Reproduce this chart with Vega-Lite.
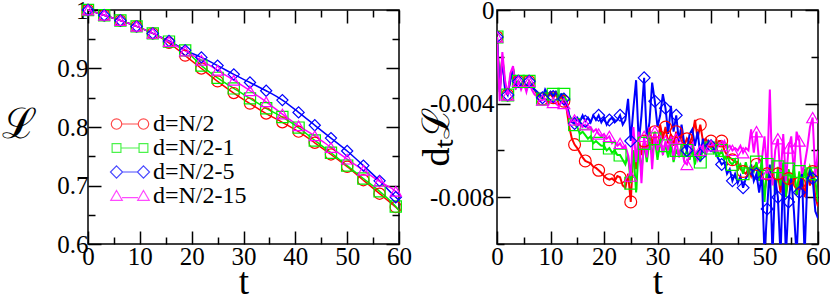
{
"$schema":"https://vega.github.io/schema/vega-lite/v6.json",
"padding":{"left":0,"top":-3,"right":0,"bottom":0},
"spacing":4,
"config":{"font":"Liberation Serif","view":{"stroke":"black","strokeWidth":1.5},
 "axis":{"domain":false,"grid":false,"tickColor":"black","tickWidth":1.5,"labelColor":"black","titleColor":"black","titleFontWeight":"normal","labelFontSize":25,"labelFont":"Liberation Serif","titleFont":"Liberation Serif","labelOverlap":false,"labelFlush":false,"labelBound":false}},
"resolve":{"scale":{"color":"independent","shape":"independent","x":"independent","y":"independent"},"legend":{"color":"independent","shape":"independent"}},
"hconcat":[
{
 "width":311,"height":234,
 "data":{"values":[
 {"t":0,"d=N/2":1,"d=N/2-1":1,"d=N/2-5":1,"d=N/2-15":1},
 {"t":3.125,"d=N/2":0.991,"d=N/2-1":0.991,"d=N/2-5":0.991,"d=N/2-15":0.991},
 {"t":6.25,"d=N/2":0.982,"d=N/2-1":0.982,"d=N/2-5":0.982,"d=N/2-15":0.982},
 {"t":9.375,"d=N/2":0.972,"d=N/2-1":0.972,"d=N/2-5":0.972,"d=N/2-15":0.972},
 {"t":12.5,"d=N/2":0.960,"d=N/2-1":0.960,"d=N/2-5":0.960,"d=N/2-15":0.960},
 {"t":15.625,"d=N/2":0.944,"d=N/2-1":0.946,"d=N/2-5":0.947,"d=N/2-15":0.946},
 {"t":18.75,"d=N/2":0.922,"d=N/2-1":0.931,"d=N/2-5":0.931,"d=N/2-15":0.930},
 {"t":21.875,"d=N/2":0.900,"d=N/2-1":0.905,"d=N/2-5":0.919,"d=N/2-15":0.914},
 {"t":25,"d=N/2":0.878,"d=N/2-1":0.884,"d=N/2-5":0.905,"d=N/2-15":0.897},
 {"t":28.125,"d=N/2":0.858,"d=N/2-1":0.866,"d=N/2-5":0.890,"d=N/2-15":0.880},
 {"t":31.25,"d=N/2":0.840,"d=N/2-1":0.849,"d=N/2-5":0.876,"d=N/2-15":0.862},
 {"t":34.375,"d=N/2":0.823,"d=N/2-1":0.832,"d=N/2-5":0.862,"d=N/2-15":0.843},
 {"t":37.5,"d=N/2":0.808,"d=N/2-1":0.817,"d=N/2-5":0.846,"d=N/2-15":0.822},
 {"t":40.625,"d=N/2":0.792,"d=N/2-1":0.799,"d=N/2-5":0.825,"d=N/2-15":0.802},
 {"t":43.75,"d=N/2":0.773,"d=N/2-1":0.777,"d=N/2-5":0.803,"d=N/2-15":0.785},
 {"t":46.875,"d=N/2":0.753,"d=N/2-1":0.756,"d=N/2-5":0.781,"d=N/2-15":0.765},
 {"t":50,"d=N/2":0.732,"d=N/2-1":0.734,"d=N/2-5":0.759,"d=N/2-15":0.745},
 {"t":53.125,"d=N/2":0.709,"d=N/2-1":0.712,"d=N/2-5":0.734,"d=N/2-15":0.726},
 {"t":56.25,"d=N/2":0.686,"d=N/2-1":0.690,"d=N/2-5":0.708,"d=N/2-15":0.707},
 {"t":59.375,"d=N/2":0.663,"d=N/2-1":0.664,"d=N/2-5":0.680,"d=N/2-15":0.690},
 {"t":60,"d=N/2":0.658,"d=N/2-1":0.657,"d=N/2-5":0.675,"d=N/2-15":0.685}
 ]},
 "transform":[{"fold":["d=N/2","d=N/2-1","d=N/2-5","d=N/2-15"],"as":["series","L"]}],
 "layer":[
  {"mark":{"type":"line","strokeWidth":1.5,"interpolate":"monotone"},
   "encoding":{
    "x":{"field":"t","type":"quantitative","scale":{"domain":[0,60],"nice":false},
      "axis":{"orient":"bottom","values":[0,5,10,15,20,25,30,35,40,45,50,55,60],
       "tickSize":{"condition":{"test":"datum.value % 10 !== 0","value":-7},"value":-13},
       "labelExpr":"datum.value % 10 === 0 ? datum.label : ''","labelPadding":13,
       "title":"t","titleFontSize":37,"titleX":155.5,"titleY":49,"titleBaseline":"alphabetic","titleAlign":"center"}},
    "y":{"field":"L","type":"quantitative","scale":{"domain":[0.6,1],"nice":false,"zero":false},
      "axis":{"orient":"left","values":[0.6,0.65,0.7,0.75,0.8,0.85,0.9,0.95,1],
       "tickSize":{"condition":{"test":"abs(datum.value*10-round(datum.value*10))>0.01","value":-7},"value":-13},
       "labelExpr":"abs(datum.value*10-round(datum.value*10))>0.01 ? '' : toString(round(datum.value*10)/10)","labelPadding":13,
       "title":"ℒ","titleAngle":0,"titleX":-87,"titleY":114,"titleAlign":"left","titleBaseline":"middle","titleFontSize":42,"titleFont":"DejaVu Serif"}},
    "color":{"field":"series","type":"nominal","scale":{"domain":["d=N/2","d=N/2-1","d=N/2-5","d=N/2-15"],"range":["#ff0000","#00ee00","#0000ff","#ff00ff"]},"legend":null}
   }},
  {"transform":[{"filter":"datum.t < 59.9"}],
   "mark":{"type":"point","filled":false,"size":125,"strokeWidth":1.2,"opacity":1},
   "encoding":{
    "x":{"field":"t","type":"quantitative","scale":{"domain":[0,60],"nice":false},
      "axis":{"orient":"top","values":[0,5,10,15,20,25,30,35,40,45,50,55,60],"labels":false,"title":null,
       "tickSize":{"condition":{"test":"datum.value % 10 !== 0","value":-7},"value":-13}}},
    "y":{"field":"L","type":"quantitative","scale":{"domain":[0.6,1],"nice":false,"zero":false},
      "axis":{"orient":"right","values":[0.6,0.65,0.7,0.75,0.8,0.85,0.9,0.95,1],"labels":false,"title":null,
       "tickSize":{"condition":{"test":"abs(datum.value*10-round(datum.value*10))>0.01","value":-7},"value":-13}}},
    "color":{"field":"series","type":"nominal","scale":{"domain":["d=N/2","d=N/2-1","d=N/2-5","d=N/2-15"],"range":["#ff0000","#00ee00","#0000ff","#ff00ff"]},"legend":null},
    "shape":{"field":"series","type":"nominal","scale":{"domain":["d=N/2","d=N/2-1","d=N/2-5","d=N/2-15"],"range":["circle","square","diamond","triangle-up"]},"legend":null}
   }},
  {"transform":[{"filter":"datum.t < 0.1"}],
   "mark":{"type":"point","filled":false,"size":0,"strokeWidth":1.2},
   "encoding":{
    "x":{"field":"t","type":"quantitative","axis":null},
    "y":{"field":"L","type":"quantitative","axis":null},
    "color":{"field":"series","type":"nominal","scale":{"domain":["d=N/2","d=N/2-1","d=N/2-5","d=N/2-15"],"range":["#ff0000","#00ee00","#0000ff","#ff00ff"]},
      "legend":{"orient":"none","legendX":30,"legendY":102,"title":null,"labelFontSize":24,"labelFont":"Liberation Serif","labelColor":"black","symbolSize":121,"symbolStrokeWidth":1.2,"labelOffset":11,"rowPadding":-1}},
    "shape":{"field":"series","type":"nominal","scale":{"domain":["d=N/2","d=N/2-1","d=N/2-5","d=N/2-15"],"range":[
      "M-3.4,0A0.95,0.95,0,1,1,-1.5,0A0.95,0.95,0,1,1,-3.4,0ZM-1.5,0L1.5,0M1.5,0A0.95,0.95,0,1,1,3.4,0A0.95,0.95,0,1,1,1.5,0Z",
      "M-3.25,-0.8H-1.65V0.8H-3.25ZM-1.65,0L1.65,0M1.65,-0.8H3.25V0.8H1.65Z",
      "M-2.45,-1.1L-1.35,0L-2.45,1.1L-3.55,0ZM-1.35,0L1.35,0M2.45,-1.1L3.55,0L2.45,1.1L1.35,0Z",
      "M-2.45,-1L-1.4,0.8L-3.5,0.8ZM-1.45,0.3L1.45,0.3M2.45,-1L3.5,0.8L1.4,0.8Z"]},
      "legend":{"orient":"none","legendX":30,"legendY":102,"title":null,"labelFontSize":24,"labelFont":"Liberation Serif","labelColor":"black","symbolSize":121,"symbolStrokeWidth":1.2,"labelOffset":11,"rowPadding":-1}}
   }}
 ],
 "resolve":{"axis":{"x":"independent","y":"independent"},"scale":{"shape":"independent","color":"independent"},"legend":{"shape":"independent","color":"independent"}}
},
{
 "width":321,"height":234,
 "data":{"values":[
 {"t":0,"d=N/2":-0.00115,"d=N/2-1":-0.00115,"d=N/2-5":-0.00115,"d=N/2-15":-0.00115},
 {"t":0.5,"d=N/2":-0.0034,"d=N/2-1":-0.0033,"d=N/2-5":-0.0035,"d=N/2-15":-0.0039},
 {"t":1,"d=N/2":-0.002,"d=N/2-1":-0.002,"d=N/2-5":-0.0021,"d=N/2-15":-0.0018},
 {"t":1.5,"d=N/2":-0.0033,"d=N/2-1":-0.0032,"d=N/2-5":-0.0034,"d=N/2-15":-0.003},
 {"t":2,"d=N/2":-0.00363,"d=N/2-1":-0.00363,"d=N/2-5":-0.00363,"d=N/2-15":-0.00363},
 {"t":2.5,"d=N/2":-0.0029,"d=N/2-1":-0.0029,"d=N/2-5":-0.003,"d=N/2-15":-0.0027},
 {"t":3,"d=N/2":-0.0025,"d=N/2-1":-0.0025,"d=N/2-5":-0.0026,"d=N/2-15":-0.0024},
 {"t":3.5,"d=N/2":-0.0032,"d=N/2-1":-0.0031,"d=N/2-5":-0.0033,"d=N/2-15":-0.0034},
 {"t":4,"d=N/2":-0.00305,"d=N/2-1":-0.00305,"d=N/2-5":-0.00305,"d=N/2-15":-0.00305},
 {"t":4.5,"d=N/2":-0.0033,"d=N/2-1":-0.0032,"d=N/2-5":-0.0033,"d=N/2-15":-0.0034},
 {"t":5,"d=N/2":-0.003,"d=N/2-1":-0.003,"d=N/2-5":-0.0031,"d=N/2-15":-0.0031},
 {"t":5.5,"d=N/2":-0.0033,"d=N/2-1":-0.0033,"d=N/2-5":-0.0034,"d=N/2-15":-0.0035},
 {"t":6,"d=N/2":-0.00305,"d=N/2-1":-0.00305,"d=N/2-5":-0.00305,"d=N/2-15":-0.00305},
 {"t":6.5,"d=N/2":-0.0032,"d=N/2-1":-0.0032,"d=N/2-5":-0.0033,"d=N/2-15":-0.0034},
 {"t":7,"d=N/2":-0.0034,"d=N/2-1":-0.0034,"d=N/2-5":-0.0034,"d=N/2-15":-0.0036},
 {"t":7.5,"d=N/2":-0.0036,"d=N/2-1":-0.0035,"d=N/2-5":-0.0035,"d=N/2-15":-0.0037},
 {"t":8,"d=N/2":-0.0037,"d=N/2-1":-0.0037,"d=N/2-5":-0.0036,"d=N/2-15":-0.0039},
 {"t":8.5,"d=N/2":-0.0038,"d=N/2-1":-0.0038,"d=N/2-5":-0.00375,"d=N/2-15":-0.00385},
 {"t":9,"d=N/2":-0.0036,"d=N/2-1":-0.0035,"d=N/2-5":-0.0034,"d=N/2-15":-0.0038},
 {"t":9.5,"d=N/2":-0.0037,"d=N/2-1":-0.0037,"d=N/2-5":-0.0036,"d=N/2-15":-0.004},
 {"t":10,"d=N/2":-0.0036,"d=N/2-1":-0.0035,"d=N/2-5":-0.0035,"d=N/2-15":-0.0039},
 {"t":10.5,"d=N/2":-0.00375,"d=N/2-1":-0.0036,"d=N/2-5":-0.0037,"d=N/2-15":-0.00395},
 {"t":11,"d=N/2":-0.0036,"d=N/2-1":-0.0035,"d=N/2-5":-0.0035,"d=N/2-15":-0.004},
 {"t":11.5,"d=N/2":-0.00385,"d=N/2-1":-0.0038,"d=N/2-5":-0.0037,"d=N/2-15":-0.0041},
 {"t":12,"d=N/2":-0.0037,"d=N/2-1":-0.0036,"d=N/2-5":-0.0036,"d=N/2-15":-0.0039},
 {"t":12.5,"d=N/2":-0.0039,"d=N/2-1":-0.0036,"d=N/2-5":-0.0038,"d=N/2-15":-0.004},
 {"t":13,"d=N/2":-0.0042,"d=N/2-1":-0.0039,"d=N/2-5":-0.004,"d=N/2-15":-0.0042},
 {"t":13.5,"d=N/2":-0.005,"d=N/2-1":-0.0045,"d=N/2-5":-0.0045,"d=N/2-15":-0.0046},
 {"t":14,"d=N/2":-0.0055,"d=N/2-1":-0.0047,"d=N/2-5":-0.0048,"d=N/2-15":-0.00475},
 {"t":14.5,"d=N/2":-0.00575,"d=N/2-1":-0.0049,"d=N/2-5":-0.00485,"d=N/2-15":-0.0047},
 {"t":15,"d=N/2":-0.0059,"d=N/2-1":-0.005,"d=N/2-5":-0.0046,"d=N/2-15":-0.0049},
 {"t":15.5,"d=N/2":-0.0061,"d=N/2-1":-0.0053,"d=N/2-5":-0.00475,"d=N/2-15":-0.0048},
 {"t":16,"d=N/2":-0.0063,"d=N/2-1":-0.0052,"d=N/2-5":-0.0045,"d=N/2-15":-0.005},
 {"t":16.5,"d=N/2":-0.00645,"d=N/2-1":-0.00535,"d=N/2-5":-0.00475,"d=N/2-15":-0.0049},
 {"t":17,"d=N/2":-0.0065,"d=N/2-1":-0.0055,"d=N/2-5":-0.0046,"d=N/2-15":-0.00505},
 {"t":17.5,"d=N/2":-0.00655,"d=N/2-1":-0.0054,"d=N/2-5":-0.0048,"d=N/2-15":-0.005},
 {"t":18,"d=N/2":-0.0067,"d=N/2-1":-0.0057,"d=N/2-5":-0.0045,"d=N/2-15":-0.0052},
 {"t":18.5,"d=N/2":-0.00675,"d=N/2-1":-0.0056,"d=N/2-5":-0.0047,"d=N/2-15":-0.0051},
 {"t":19,"d=N/2":-0.00685,"d=N/2-1":-0.0057,"d=N/2-5":-0.0045,"d=N/2-15":-0.0053},
 {"t":19.5,"d=N/2":-0.00695,"d=N/2-1":-0.0058,"d=N/2-5":-0.0048,"d=N/2-15":-0.0054},
 {"t":20,"d=N/2":-0.0071,"d=N/2-1":-0.0058,"d=N/2-5":-0.0046,"d=N/2-15":-0.0053},
 {"t":20.5,"d=N/2":-0.0072,"d=N/2-1":-0.006,"d=N/2-5":-0.0049,"d=N/2-15":-0.0055},
 {"t":21,"d=N/2":-0.00725,"d=N/2-1":-0.0059,"d=N/2-5":-0.0047,"d=N/2-15":-0.0054},
 {"t":21.5,"d=N/2":-0.0072,"d=N/2-1":-0.0061,"d=N/2-5":-0.0046,"d=N/2-15":-0.0057},
 {"t":22,"d=N/2":-0.0073,"d=N/2-1":-0.006,"d=N/2-5":-0.0048,"d=N/2-15":-0.0056},
 {"t":22.5,"d=N/2":-0.0071,"d=N/2-1":-0.0062,"d=N/2-5":-0.0047,"d=N/2-15":-0.0058},
 {"t":23,"d=N/2":-0.00715,"d=N/2-1":-0.0062,"d=N/2-5":-0.0045,"d=N/2-15":-0.0057},
 {"t":23.5,"d=N/2":-0.0075,"d=N/2-1":-0.0064,"d=N/2-5":-0.0049,"d=N/2-15":-0.0059},
 {"t":24,"d=N/2":-0.0076,"d=N/2-1":-0.0066,"d=N/2-5":-0.0047,"d=N/2-15":-0.0058},
 {"t":24.5,"d=N/2":-0.007,"d=N/2-1":-0.0062,"d=N/2-5":-0.0038,"d=N/2-15":-0.0062},
 {"t":25,"d=N/2":-0.0082,"d=N/2-1":-0.0074,"d=N/2-5":-0.0056,"d=N/2-15":-0.0071},
 {"t":25.5,"d=N/2":-0.006,"d=N/2-1":-0.006,"d=N/2-5":-0.0042,"d=N/2-15":-0.005},
 {"t":26,"d=N/2":-0.0068,"d=N/2-1":-0.0078,"d=N/2-5":-0.003,"d=N/2-15":-0.0065},
 {"t":26.5,"d=N/2":-0.0055,"d=N/2-1":-0.0058,"d=N/2-5":-0.0057,"d=N/2-15":-0.0052},
 {"t":27,"d=N/2":-0.0062,"d=N/2-1":-0.0069,"d=N/2-5":-0.0045,"d=N/2-15":-0.0074},
 {"t":27.5,"d=N/2":-0.0056,"d=N/2-1":-0.0057,"d=N/2-5":-0.0029,"d=N/2-15":-0.0054},
 {"t":28,"d=N/2":-0.006,"d=N/2-1":-0.0065,"d=N/2-5":-0.0055,"d=N/2-15":-0.0063},
 {"t":28.5,"d=N/2":-0.005,"d=N/2-1":-0.0056,"d=N/2-5":-0.0048,"d=N/2-15":-0.005},
 {"t":29,"d=N/2":-0.0058,"d=N/2-1":-0.0062,"d=N/2-5":-0.0031,"d=N/2-15":-0.0068},
 {"t":29.5,"d=N/2":-0.0052,"d=N/2-1":-0.0055,"d=N/2-5":-0.0039,"d=N/2-15":-0.0052},
 {"t":30,"d=N/2":-0.006,"d=N/2-1":-0.0064,"d=N/2-5":-0.005,"d=N/2-15":-0.006},
 {"t":30.5,"d=N/2":-0.0049,"d=N/2-1":-0.0056,"d=N/2-5":-0.0045,"d=N/2-15":-0.0053},
 {"t":31,"d=N/2":-0.0055,"d=N/2-1":-0.0061,"d=N/2-5":-0.0036,"d=N/2-15":-0.0062},
 {"t":31.5,"d=N/2":-0.005,"d=N/2-1":-0.0058,"d=N/2-5":-0.0042,"d=N/2-15":-0.0056},
 {"t":32,"d=N/2":-0.0057,"d=N/2-1":-0.0063,"d=N/2-5":-0.0053,"d=N/2-15":-0.006},
 {"t":32.5,"d=N/2":-0.0053,"d=N/2-1":-0.0057,"d=N/2-5":-0.0041,"d=N/2-15":-0.0054},
 {"t":33,"d=N/2":-0.0058,"d=N/2-1":-0.0065,"d=N/2-5":-0.0052,"d=N/2-15":-0.0064},
 {"t":33.5,"d=N/2":-0.0052,"d=N/2-1":-0.006,"d=N/2-5":-0.0045,"d=N/2-15":-0.0055},
 {"t":34,"d=N/2":-0.0056,"d=N/2-1":-0.0062,"d=N/2-5":-0.0056,"d=N/2-15":-0.0063},
 {"t":34.5,"d=N/2":-0.0053,"d=N/2-1":-0.0058,"d=N/2-5":-0.0049,"d=N/2-15":-0.0058},
 {"t":35,"d=N/2":-0.0058,"d=N/2-1":-0.0063,"d=N/2-5":-0.0057,"d=N/2-15":-0.0065},
 {"t":35.5,"d=N/2":-0.0055,"d=N/2-1":-0.006,"d=N/2-5":-0.006,"d=N/2-15":-0.0066},
 {"t":36,"d=N/2":-0.0057,"d=N/2-1":-0.0064,"d=N/2-5":-0.0053,"d=N/2-15":-0.0062},
 {"t":36.5,"d=N/2":-0.0054,"d=N/2-1":-0.0059,"d=N/2-5":-0.0051,"d=N/2-15":-0.0056},
 {"t":37,"d=N/2":-0.0047,"d=N/2-1":-0.0066,"d=N/2-5":-0.0058,"d=N/2-15":-0.0061},
 {"t":37.5,"d=N/2":-0.0055,"d=N/2-1":-0.006,"d=N/2-5":-0.0052,"d=N/2-15":-0.0064},
 {"t":38,"d=N/2":-0.0049,"d=N/2-1":-0.0065,"d=N/2-5":-0.0062,"d=N/2-15":-0.006},
 {"t":38.5,"d=N/2":-0.0056,"d=N/2-1":-0.0059,"d=N/2-5":-0.0055,"d=N/2-15":-0.0058},
 {"t":39,"d=N/2":-0.0055,"d=N/2-1":-0.0061,"d=N/2-5":-0.006,"d=N/2-15":-0.0062},
 {"t":39.5,"d=N/2":-0.0057,"d=N/2-1":-0.0058,"d=N/2-5":-0.0056,"d=N/2-15":-0.0059},
 {"t":40,"d=N/2":-0.0056,"d=N/2-1":-0.0059,"d=N/2-5":-0.0058,"d=N/2-15":-0.0058},
 {"t":40.5,"d=N/2":-0.0059,"d=N/2-1":-0.0061,"d=N/2-5":-0.0059,"d=N/2-15":-0.0057},
 {"t":41,"d=N/2":-0.0058,"d=N/2-1":-0.0059,"d=N/2-5":-0.0062,"d=N/2-15":-0.0059},
 {"t":41.5,"d=N/2":-0.0056,"d=N/2-1":-0.0062,"d=N/2-5":-0.0064,"d=N/2-15":-0.0057},
 {"t":42,"d=N/2":-0.0056,"d=N/2-1":-0.006,"d=N/2-5":-0.0066,"d=N/2-15":-0.0058},
 {"t":42.5,"d=N/2":-0.006,"d=N/2-1":-0.0064,"d=N/2-5":-0.0065,"d=N/2-15":-0.0056},
 {"t":43,"d=N/2":-0.0062,"d=N/2-1":-0.0062,"d=N/2-5":-0.007,"d=N/2-15":-0.0059},
 {"t":43.5,"d=N/2":-0.0063,"d=N/2-1":-0.0065,"d=N/2-5":-0.0068,"d=N/2-15":-0.0058},
 {"t":44,"d=N/2":-0.0064,"d=N/2-1":-0.0066,"d=N/2-5":-0.0073,"d=N/2-15":-0.006},
 {"t":44.5,"d=N/2":-0.0065,"d=N/2-1":-0.0064,"d=N/2-5":-0.007,"d=N/2-15":-0.0059},
 {"t":45,"d=N/2":-0.0065,"d=N/2-1":-0.0068,"d=N/2-5":-0.0074,"d=N/2-15":-0.006},
 {"t":45.5,"d=N/2":-0.0068,"d=N/2-1":-0.0066,"d=N/2-5":-0.0071,"d=N/2-15":-0.0058},
 {"t":46,"d=N/2":-0.0069,"d=N/2-1":-0.007,"d=N/2-5":-0.0076,"d=N/2-15":-0.0061},
 {"t":46.5,"d=N/2":-0.007,"d=N/2-1":-0.0065,"d=N/2-5":-0.0072,"d=N/2-15":-0.0059},
 {"t":47,"d=N/2":-0.0068,"d=N/2-1":-0.007,"d=N/2-5":-0.007,"d=N/2-15":-0.006},
 {"t":47.5,"d=N/2":-0.0071,"d=N/2-1":-0.0067,"d=N/2-5":-0.0066,"d=N/2-15":-0.0051},
 {"t":48,"d=N/2":-0.0067,"d=N/2-1":-0.0069,"d=N/2-5":-0.0073,"d=N/2-15":-0.0061},
 {"t":48.5,"d=N/2":-0.0066,"d=N/2-1":-0.0065,"d=N/2-5":-0.007,"d=N/2-15":-0.0052},
 {"t":49,"d=N/2":-0.007,"d=N/2-1":-0.0073,"d=N/2-5":-0.0078,"d=N/2-15":-0.0065},
 {"t":49.5,"d=N/2":-0.0073,"d=N/2-1":-0.0064,"d=N/2-5":-0.007,"d=N/2-15":-0.0064},
 {"t":50,"d=N/2":-0.0078,"d=N/2-1":-0.0082,"d=N/2-5":-0.0105,"d=N/2-15":-0.0054},
 {"t":50.5,"d=N/2":-0.007,"d=N/2-1":-0.0066,"d=N/2-5":-0.0085,"d=N/2-15":-0.007},
 {"t":51,"d=N/2":-0.0075,"d=N/2-1":-0.0076,"d=N/2-5":-0.0066,"d=N/2-15":-0.0034},
 {"t":51.5,"d=N/2":-0.0068,"d=N/2-1":-0.0065,"d=N/2-5":-0.0105,"d=N/2-15":-0.0075},
 {"t":52,"d=N/2":-0.0076,"d=N/2-1":-0.0079,"d=N/2-5":-0.0072,"d=N/2-15":-0.006},
 {"t":52.5,"d=N/2":-0.007,"d=N/2-1":-0.0067,"d=N/2-5":-0.008,"d=N/2-15":-0.0055},
 {"t":53,"d=N/2":-0.0078,"d=N/2-1":-0.0075,"d=N/2-5":-0.0105,"d=N/2-15":-0.0072},
 {"t":53.5,"d=N/2":-0.0069,"d=N/2-1":-0.0066,"d=N/2-5":-0.0068,"d=N/2-15":-0.0053},
 {"t":54,"d=N/2":-0.0079,"d=N/2-1":-0.008,"d=N/2-5":-0.0105,"d=N/2-15":-0.0073},
 {"t":54.5,"d=N/2":-0.0072,"d=N/2-1":-0.0068,"d=N/2-5":-0.0082,"d=N/2-15":-0.0059},
 {"t":55,"d=N/2":-0.0077,"d=N/2-1":-0.0073,"d=N/2-5":-0.0072,"d=N/2-15":-0.0054},
 {"t":55.5,"d=N/2":-0.0069,"d=N/2-1":-0.0067,"d=N/2-5":-0.0086,"d=N/2-15":-0.007},
 {"t":56,"d=N/2":-0.0079,"d=N/2-1":-0.0079,"d=N/2-5":-0.0105,"d=N/2-15":-0.0052},
 {"t":56.5,"d=N/2":-0.0074,"d=N/2-1":-0.0069,"d=N/2-5":-0.0078,"d=N/2-15":-0.0056},
 {"t":57,"d=N/2":-0.0071,"d=N/2-1":-0.0076,"d=N/2-5":-0.007,"d=N/2-15":-0.007},
 {"t":57.5,"d=N/2":-0.008,"d=N/2-1":-0.0068,"d=N/2-5":-0.0105,"d=N/2-15":-0.0066},
 {"t":58,"d=N/2":-0.007,"d=N/2-1":-0.0074,"d=N/2-5":-0.0073,"d=N/2-15":-0.0059},
 {"t":58.5,"d=N/2":-0.0075,"d=N/2-1":-0.0067,"d=N/2-5":-0.0069,"d=N/2-15":-0.005},
 {"t":59,"d=N/2":-0.0069,"d=N/2-1":-0.007,"d=N/2-5":-0.0072,"d=N/2-15":-0.0046},
 {"t":59.5,"d=N/2":-0.008,"d=N/2-1":-0.0073,"d=N/2-5":-0.0086,"d=N/2-15":-0.0071},
 {"t":60,"d=N/2":-0.0084,"d=N/2-1":-0.0082,"d=N/2-5":-0.0089,"d=N/2-15":-0.006}
 ]},
 "transform":[{"fold":["d=N/2","d=N/2-1","d=N/2-5","d=N/2-15"],"as":["series","dL"]}],
 "layer":[
  {"mark":{"type":"line","strokeWidth":2,"clip":true},
   "encoding":{
    "x":{"field":"t","type":"quantitative","scale":{"domain":[0,60],"nice":false},
      "axis":{"orient":"bottom","values":[0,5,10,15,20,25,30,35,40,45,50,55,60],
       "tickSize":{"condition":{"test":"datum.value % 10 !== 0","value":-7},"value":-13},
       "labelExpr":"datum.value % 10 === 0 ? datum.label : ''","labelPadding":13,
       "title":"t","titleFontSize":37,"titleX":160.5,"titleY":49,"titleBaseline":"alphabetic","titleAlign":"center"}},
    "y":{"field":"dL","type":"quantitative","scale":{"domain":[-0.01,0],"nice":false,"zero":false},
      "axis":{"orient":"left","values":[-0.01,-0.008,-0.006,-0.004,-0.002,0],
       "tickSize":{"condition":{"test":"round(datum.value*1000) % 4 !== 0","value":-7},"value":-13},
       "labelExpr":"round(datum.value*1000) % 4 !== 0 ? '' : toString(round(datum.value*1000)/1000)","labelPadding":16,
       "title":"dₜℒ","titleAngle":270,"titleX":-60,"titleY":126,"titleAlign":"center","titleBaseline":"middle","titleFontSize":38}},
    "color":{"field":"series","type":"nominal","scale":{"domain":["d=N/2","d=N/2-1","d=N/2-5","d=N/2-15"],"range":["#ff0000","#00ee00","#0000ff","#ff00ff"]},"legend":null}
   }},
  {"transform":[{"filter":{"field":"t","oneOf":[0,2,4,6,8.5,10.5,12.5,14.5,16.5,19,21,23,25,27.5,29.5,31.5,33.5,35.5,38,40,42,44,46,48.5,50.5,52.5,54.5,56.5,59]}}],
   "mark":{"type":"point","filled":false,"size":140,"strokeWidth":1.2,"opacity":1,"clip":true},
   "encoding":{
    "x":{"field":"t","type":"quantitative","scale":{"domain":[0,60],"nice":false},
      "axis":{"orient":"top","values":[0,5,10,15,20,25,30,35,40,45,50,55,60],"labels":false,"title":null,
       "tickSize":{"condition":{"test":"datum.value % 10 !== 0","value":-7},"value":-13}}},
    "y":{"field":"dL","type":"quantitative","scale":{"domain":[-0.01,0],"nice":false,"zero":false},
      "axis":{"orient":"right","values":[-0.01,-0.008,-0.006,-0.004,-0.002,0],"labels":false,"title":null,
       "tickSize":{"condition":{"test":"round(datum.value*1000) % 4 !== 0","value":-7},"value":-13}}},
    "color":{"field":"series","type":"nominal","scale":{"domain":["d=N/2","d=N/2-1","d=N/2-5","d=N/2-15"],"range":["#ff0000","#00ee00","#0000ff","#ff00ff"]},"legend":null},
    "shape":{"field":"series","type":"nominal","scale":{"domain":["d=N/2","d=N/2-1","d=N/2-5","d=N/2-15"],"range":["circle","square","diamond","triangle-up"]},"legend":null}
   }}
 ],
 "resolve":{"axis":{"x":"independent","y":"independent"}}
}
]
}
